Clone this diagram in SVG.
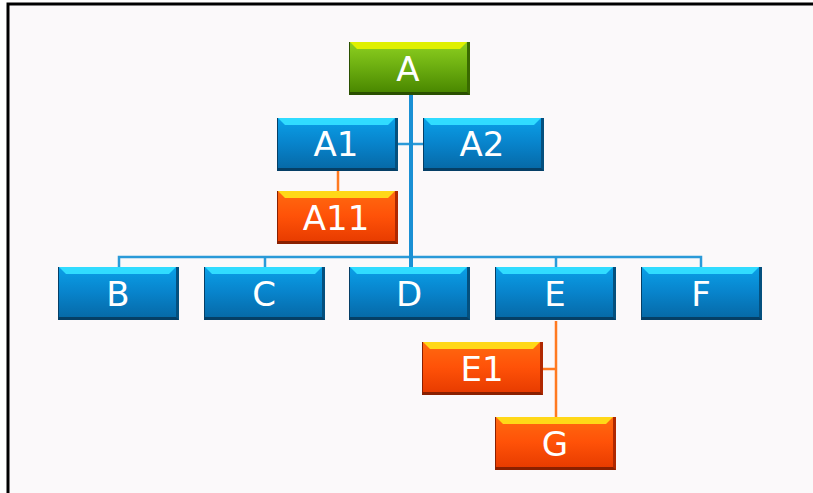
<svg xmlns="http://www.w3.org/2000/svg" xmlns:xlink="http://www.w3.org/1999/xlink" width="813" height="493" viewBox="0 0 813 493">
<defs>
<linearGradient id="gBlue" x1="0" y1="0" x2="0" y2="1">
<stop offset="0" stop-color="#0aa0e8"/><stop offset="0.5" stop-color="#0884cc"/><stop offset="1" stop-color="#066aa8"/>
</linearGradient>
<linearGradient id="gOrange" x1="0" y1="0" x2="0" y2="1">
<stop offset="0" stop-color="#ff6a10"/><stop offset="0.5" stop-color="#ff5208"/><stop offset="1" stop-color="#e83c00"/>
</linearGradient>
<linearGradient id="gGreen" x1="0" y1="0" x2="0" y2="1">
<stop offset="0" stop-color="#8ed020"/><stop offset="0.5" stop-color="#6cae10"/><stop offset="1" stop-color="#4a8800"/>
</linearGradient>
<symbol id="boxBlue" overflow="visible">
<rect x="0" y="0" width="121" height="53" fill="#053f66"/>
<rect x="1" y="0" width="117" height="50" fill="url(#gBlue)"/>
<polygon points="1,0 118,0 111,7 8,7" fill="#30dcff"/>
<polygon points="118,0 121,0 121,53 118,50" fill="#04507e"/>
</symbol>
<symbol id="boxOrange" overflow="visible">
<rect x="0" y="0" width="121" height="53" fill="#8a2000"/>
<rect x="1" y="0" width="117" height="50" fill="url(#gOrange)"/>
<polygon points="1,0 118,0 111,7 8,7" fill="#ffd818"/>
<polygon points="118,0 121,0 121,53 118,50" fill="#b02800"/>
</symbol>
<symbol id="boxGreen" overflow="visible">
<rect x="0" y="0" width="121" height="53" fill="#2a5000"/>
<rect x="1" y="0" width="117" height="50" fill="url(#gGreen)"/>
<polygon points="1,0 118,0 111,7 8,7" fill="#e0f000"/>
<polygon points="118,0 121,0 121,53 118,50" fill="#3a6a00"/>
</symbol>
</defs>
<style>
.lbl{font-family:"DejaVu Sans",Verdana,sans-serif;font-size:34px;fill:#ffffff;text-anchor:middle}
.blue{fill:none;stroke:#2a9ad8;stroke-width:2.5}
.trunk{fill:none;stroke:#1a90d4;stroke-width:4}
.org{fill:none;stroke:#ff7a20;stroke-width:2.5}
</style>
<rect x="0" y="0" width="813" height="493" fill="#ffffff"/>
<rect x="8" y="4" width="805" height="489" fill="#fbf9fa"/>
<path d="M8,493 V4 H813" fill="none" stroke="#000" stroke-width="3"/>
<g id="connectors">
<path class="blue" d="M119,267 V257 H701 V267 M265,257 V267 M556,257 V267"/>
<path class="blue" d="M398,144 H423"/>
<path class="trunk" d="M411,95 V267"/>
<path class="org" d="M338,170 V192"/>
<path class="org" d="M556,321 V418 M543,369 H556"/>
</g>
<g id="node-A"><use xlink:href="#boxGreen" x="349" y="42"/><text class="lbl" x="408" y="81">A</text></g>
<g id="node-A1"><use xlink:href="#boxBlue" x="277" y="118"/><text class="lbl" x="336" y="156">A1</text></g>
<g id="node-A2"><use xlink:href="#boxBlue" x="423" y="118"/><text class="lbl" x="482" y="156">A2</text></g>
<g id="node-A11"><use xlink:href="#boxOrange" x="277" y="191"/><text class="lbl" x="336" y="230">A11</text></g>
<g id="node-B"><use xlink:href="#boxBlue" x="58" y="267"/><text class="lbl" x="118" y="306">B</text></g>
<g id="node-C"><use xlink:href="#boxBlue" x="204" y="267"/><text class="lbl" x="264" y="306">C</text></g>
<g id="node-D"><use xlink:href="#boxBlue" x="349" y="267"/><text class="lbl" x="409" y="306">D</text></g>
<g id="node-E"><use xlink:href="#boxBlue" x="495" y="267"/><text class="lbl" x="555" y="306">E</text></g>
<g id="node-F"><use xlink:href="#boxBlue" x="641" y="267"/><text class="lbl" x="701" y="306">F</text></g>
<g id="node-E1"><use xlink:href="#boxOrange" x="422" y="342"/><text class="lbl" x="482" y="381">E1</text></g>
<g id="node-G"><use xlink:href="#boxOrange" x="495" y="417"/><text class="lbl" x="555" y="456">G</text></g>
</svg>
